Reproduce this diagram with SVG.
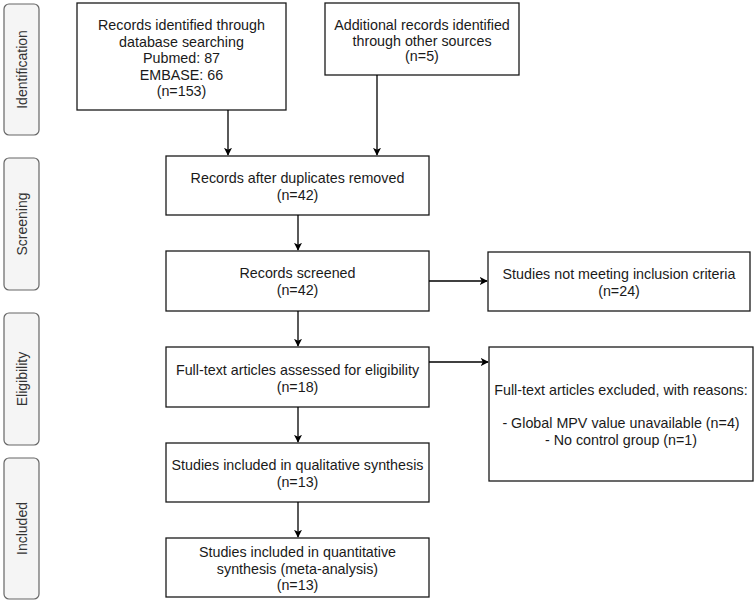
<svg xmlns="http://www.w3.org/2000/svg" width="755" height="604" viewBox="0 0 755 604">
<defs>
<style>
.box{fill:#fff;stroke:#1a1a1a;stroke-width:1.3}
.phase{fill:#f5f5f5;stroke:#666;stroke-width:1.2}
text{font-family:"Liberation Sans",Arial,sans-serif;font-size:14.3px;fill:#1a1a1a;text-anchor:middle}
.pt{fill:#333;font-size:14px}
.edge{fill:none;stroke:#000;stroke-width:1.3}
</style>
<marker id="ah" viewBox="0 0 10 10" refX="9" refY="5" markerWidth="8" markerHeight="8" markerUnits="userSpaceOnUse" orient="auto">
<path d="M0,0 L10,5 L0,10 L2.5,5 Z" fill="#000"/>
</marker>
</defs>
<rect width="755" height="604" fill="#fff"/>
<g id="phase-identification"><rect class="phase" x="4" y="4" width="35" height="131" rx="5"/><text class="pt" transform="translate(26.5,69.5) rotate(-90)">Identification</text></g>
<g id="phase-screening"><rect class="phase" x="4" y="158" width="35" height="132" rx="5"/><text class="pt" transform="translate(26.5,224) rotate(-90)">Screening</text></g>
<g id="phase-eligibility"><rect class="phase" x="4" y="313" width="35" height="132" rx="5"/><text class="pt" transform="translate(26.5,379) rotate(-90)">Eligibility</text></g>
<g id="phase-included"><rect class="phase" x="4" y="458" width="35" height="141" rx="5"/><text class="pt" transform="translate(26.5,528.5) rotate(-90)">Included</text></g>

<g id="n-database"><rect class="box" x="77" y="3" width="209" height="107"/>
<text x="181.5" y="30">Records identified through</text>
<text x="181.5" y="46.5">database searching</text>
<text x="181.5" y="63">Pubmed: 87</text>
<text x="181.5" y="79.5">EMBASE: 66</text>
<text x="181.5" y="96">(n=153)</text></g>

<g id="n-other"><rect class="box" x="325" y="3" width="194" height="72"/>
<text x="422" y="30">Additional records identified</text>
<text x="422" y="45.5">through other sources</text>
<text x="422" y="61">(n=5)</text></g>

<g id="n-dup"><rect class="box" x="166" y="156" width="263" height="59"/>
<text x="297.5" y="183">Records after duplicates removed</text>
<text x="297.5" y="200">(n=42)</text></g>

<g id="n-screened"><rect class="box" x="166" y="251" width="263" height="60"/>
<text x="297.5" y="278">Records screened</text>
<text x="297.5" y="295">(n=42)</text></g>

<g id="n-notmeeting"><rect class="box" x="488" y="252" width="262" height="59"/>
<text x="619" y="279">Studies not meeting inclusion criteria</text>
<text x="619" y="296">(n=24)</text></g>

<g id="n-fulltext"><rect class="box" x="166" y="347" width="263" height="60"/>
<text x="297.5" y="375">Full-text articles assessed for eligibility</text>
<text x="297.5" y="392">(n=18)</text></g>

<g id="n-excluded"><rect class="box" x="489" y="347" width="264" height="134"/>
<text x="621" y="395">Full-text articles excluded, with reasons:</text>
<text x="621" y="428">- Global MPV value unavailable (n=4)</text>
<text x="621" y="444.5">- No control group (n=1)</text></g>

<g id="n-qualitative"><rect class="box" x="166" y="443" width="263" height="59"/>
<text x="297.5" y="470">Studies included in qualitative synthesis</text>
<text x="297.5" y="487">(n=13)</text></g>

<g id="n-quantitative"><rect class="box" x="166" y="538" width="263" height="59"/>
<text x="297.5" y="557">Studies included in quantitative</text>
<text x="297.5" y="573.5">synthesis (meta-analysis)</text>
<text x="297.5" y="590">(n=13)</text></g>

<g id="connectors">
<path class="edge" d="M228,110 V155" marker-end="url(#ah)"/>
<path class="edge" d="M377,75 V155" marker-end="url(#ah)"/>
<path class="edge" d="M298,215 V250" marker-end="url(#ah)"/>
<path class="edge" d="M429,281 H487" marker-end="url(#ah)"/>
<path class="edge" d="M298,311 V346" marker-end="url(#ah)"/>
<path class="edge" d="M429,362 H488" marker-end="url(#ah)"/>
<path class="edge" d="M298,407 V442" marker-end="url(#ah)"/>
<path class="edge" d="M298,502 V537" marker-end="url(#ah)"/>
</g>
</svg>
